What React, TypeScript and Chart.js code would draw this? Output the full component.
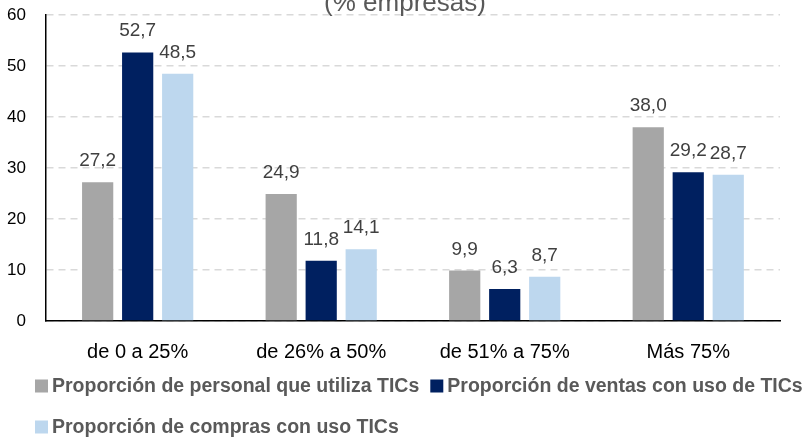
import React, { useEffect, useRef } from "react";
import { Chart, registerables } from "chart.js";

Chart.register(...registerables);

const categories = ["de 0 a 25%", "de 26% a 50%", "de 51% a 75%", "Más 75%"];
const seriesNames = [
  "Proporción de personal que utiliza TICs",
  "Proporción de ventas con uso de TICs",
  "Proporción de compras con uso TICs",
];
const personal = [27.2, 24.9, 9.9, 38.0];
const ventas = [52.7, 11.8, 6.3, 29.2];
const compras = [48.5, 14.1, 8.7, 28.7];
const colors = ["#A6A6A6", "#002060", "#BDD7EE"];
const titleText = "(% empresas)";

const FONT = "'Liberation Sans', Arial, sans-serif";
const SHIFT = 15; // canvas is shifted up so the title is cut at the top like the reference

const fmt = (v: number) => v.toFixed(1).replace(".", ",");

const valueLabels = {
  id: "valueLabels",
  afterDatasetsDraw(chart: any) {
    const ctx = chart.ctx;
    ctx.save();
    ctx.font = `19px ${FONT}`;
    ctx.fillStyle = "#404040";
    ctx.textAlign = "center";
    ctx.textBaseline = "alphabetic";
    chart.data.datasets.forEach((ds: any, di: number) => {
      const meta = chart.getDatasetMeta(di);
      meta.data.forEach((bar: any, i: number) => {
        ctx.fillText(fmt(ds.data[i]), bar.x, bar.y - 16);
      });
    });
    ctx.restore();
  },
};

const titleAndLegend = {
  id: "titleAndLegend",
  afterDraw(chart: any) {
    const ctx = chart.ctx;
    ctx.save();
    ctx.font = `26px ${FONT}`;
    ctx.fillStyle = "#595959";
    ctx.textAlign = "center";
    ctx.textBaseline = "alphabetic";
    ctx.fillText(titleText, 405, 11 + SHIFT);

    ctx.font = `bold 19.5px ${FONT}`;
    ctx.textAlign = "left";
    ctx.textBaseline = "middle";
    const rows = [[0, 1], [2]];
    const rowY = [386 + SHIFT, 427 + SHIFT];
    rows.forEach((row, r) => {
      let x = 35;
      const y = rowY[r];
      row.forEach((idx) => {
        ctx.fillStyle = colors[idx];
        ctx.fillRect(x, y - 6.5, 13, 13);
        x += 17;
        ctx.fillStyle = "#595959";
        ctx.fillText(seriesNames[idx], x, y + 1);
        x += ctx.measureText(seriesNames[idx]).width + 11;
      });
    });
    ctx.restore();
  },
};

export default function App() {
  const ref = useRef<HTMLCanvasElement>(null);
  useEffect(() => {
    if (!ref.current) return;
    const chart = new Chart(ref.current, {
      type: "bar",
      data: {
        labels: categories,
        datasets: [
          { label: seriesNames[0], data: personal, backgroundColor: colors[0] },
          { label: seriesNames[1], data: ventas, backgroundColor: colors[1] },
          { label: seriesNames[2], data: compras, backgroundColor: colors[2] },
        ],
      },
      options: {
        responsive: false,
        animation: false,
        layout: { padding: { left: -13, right: 28, top: 0, bottom: 63 } },
        datasets: {
          bar: { categoryPercentage: 0.654, barPercentage: 0.78 },
        },
        plugins: {
          legend: { display: false },
          title: { display: false },
          tooltip: { enabled: false },
        },
        scales: {
          x: {
            grid: { display: false, drawTicks: false },
            border: { display: true, color: "#000", width: 1.5 },
            ticks: { color: "#000", font: { family: FONT, size: 20 }, padding: 19 },
          },
          y: {
            min: 0,
            max: 60,
            ticks: { stepSize: 10, color: "#000", font: { family: FONT, size: 17 }, padding: 20 },
            grid: { color: "#D9D9D9", lineWidth: 1.5, drawTicks: false },
            border: { display: true, color: "#000", width: 1.5, dash: [7, 5] },
          },
        },
      },
      plugins: [valueLabels, titleAndLegend],
    } as any);
    return () => chart.destroy();
  }, []);
  return (
    <div style={{ position: "fixed", left: 0, top: -SHIFT, width: 808, height: 446 + SHIFT, background: "#fff" }}>
      <canvas ref={ref} width={808} height={446 + SHIFT} style={{ display: "block" }} />
    </div>
  );
}
